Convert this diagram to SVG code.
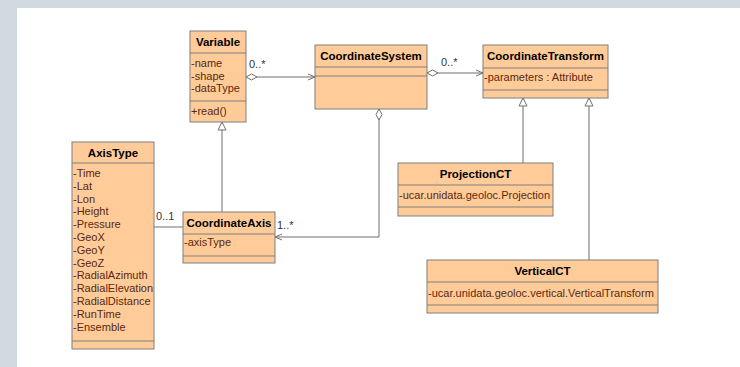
<svg xmlns="http://www.w3.org/2000/svg" width="740" height="367" viewBox="0 0 740 367">
<style>
.box{fill:#ffcc99;stroke:#7f7f7f;stroke-width:1}
.div{stroke:#7f7f7f;stroke-width:1}
.t{font-family:"Liberation Sans",Arial,sans-serif;font-size:11.5px;font-weight:bold;fill:#000;text-anchor:middle}
.a{font-family:"Liberation Sans",Arial,sans-serif;font-size:11px;fill:#5a2810}
.l{font-family:"Liberation Sans",Arial,sans-serif;font-size:11px;fill:#333}
.c{fill:none;stroke:#6f6f6f;stroke-width:1}
</style>
<defs>
<marker id="arr" markerWidth="8" markerHeight="8" refX="7" refY="4" orient="auto" markerUnits="userSpaceOnUse">
<path d="M0,1 L7,4 L0,7" fill="none" stroke="#6f6f6f" stroke-width="1"/>
</marker>
<marker id="dia" markerWidth="14" markerHeight="8" refX="1" refY="4" orient="auto" markerUnits="userSpaceOnUse">
<path d="M1,4 L6.5,1 L12,4 L6.5,7 Z" fill="#fff" stroke="#6f6f6f" stroke-width="1"/>
</marker>
<marker id="tri" markerWidth="10" markerHeight="10" refX="9" refY="5" orient="auto" markerUnits="userSpaceOnUse">
<path d="M1,1 L9,5 L1,9 Z" fill="#fff" stroke="#6f6f6f" stroke-width="1"/>
</marker>
</defs>
<rect x="0" y="0" width="740" height="367" fill="#fff"/>
<rect x="0" y="0" width="740" height="8" fill="#d1d9e1"/>
<rect x="0" y="0" width="17" height="367" fill="#d1d9e1"/>

<g id="connectors">
<line class="c" x1="246" y1="77" x2="315" y2="77" marker-start="url(#dia)" marker-end="url(#arr)"/>
<text class="l" x="249" y="68">0..*</text>
<line class="c" x1="427" y1="73" x2="483" y2="73" marker-start="url(#dia)" marker-end="url(#arr)"/>
<text class="l" x="441" y="66">0..*</text>
<path class="c" d="M379,109 L379,237 L275,237" marker-start="url(#dia)" marker-end="url(#arr)"/>
<text class="l" x="277" y="229">1..*</text>
<line class="c" x1="222" y1="212" x2="222" y2="122" marker-end="url(#tri)"/>
<line class="c" x1="154" y1="227" x2="183" y2="227"/>
<text class="l" x="156" y="220">0..1</text>
<line class="c" x1="523" y1="163" x2="523" y2="98" marker-end="url(#tri)"/>
<line class="c" x1="589" y1="260" x2="589" y2="98" marker-end="url(#tri)"/>
</g>

<g id="Variable">
<rect class="box" x="190" y="31" width="56" height="91"/>
<line class="div" x1="190" y1="53" x2="246" y2="53"/>
<line class="div" x1="190" y1="101" x2="246" y2="101"/>
<text class="t" x="218" y="45.5">Variable</text>
<text class="a" x="191" y="67">-name</text>
<text class="a" x="191" y="79.5">-shape</text>
<text class="a" x="191" y="92">-dataType</text>
<text class="a" x="191" y="115">+read()</text>
</g>

<g id="CoordinateSystem">
<rect class="box" x="315" y="45" width="112" height="64"/>
<line class="div" x1="315" y1="67" x2="427" y2="67"/>
<line class="div" x1="315" y1="76" x2="427" y2="76"/>
<text class="t" x="371" y="59.5">CoordinateSystem</text>
</g>

<g id="CoordinateTransform">
<rect class="box" x="483" y="45" width="125" height="53"/>
<line class="div" x1="483" y1="68" x2="608" y2="68"/>
<line class="div" x1="483" y1="90" x2="608" y2="90"/>
<text class="t" x="545.5" y="59.5">CoordinateTransform</text>
<text class="a" x="484" y="81">-parameters : Attribute</text>
</g>

<g id="AxisType">
<rect class="box" x="72" y="142" width="82" height="207"/>
<line class="div" x1="72" y1="163" x2="154" y2="163"/>
<line class="div" x1="72" y1="341" x2="154" y2="341"/>
<text class="t" x="113" y="156.5">AxisType</text>
<text class="a" x="73" y="177">-Time</text>
<text class="a" x="73" y="189.8">-Lat</text>
<text class="a" x="73" y="202.6">-Lon</text>
<text class="a" x="73" y="215.4">-Height</text>
<text class="a" x="73" y="228.2">-Pressure</text>
<text class="a" x="73" y="241">-GeoX</text>
<text class="a" x="73" y="253.8">-GeoY</text>
<text class="a" x="73" y="266.6">-GeoZ</text>
<text class="a" x="73" y="279.4">-RadialAzimuth</text>
<text class="a" x="73" y="292.2">-RadialElevation</text>
<text class="a" x="73" y="305">-RadialDistance</text>
<text class="a" x="73" y="317.8">-RunTime</text>
<text class="a" x="73" y="330.6">-Ensemble</text>
</g>

<g id="CoordinateAxis">
<rect class="box" x="183" y="212" width="92" height="51"/>
<line class="div" x1="183" y1="234" x2="275" y2="234"/>
<line class="div" x1="183" y1="256" x2="275" y2="256"/>
<text class="t" x="229" y="226.5">CoordinateAxis</text>
<text class="a" x="184" y="246">-axisType</text>
</g>

<g id="ProjectionCT">
<rect class="box" x="398" y="163" width="155" height="53"/>
<line class="div" x1="398" y1="185" x2="553" y2="185"/>
<line class="div" x1="398" y1="207" x2="553" y2="207"/>
<text class="t" x="475.5" y="177.5">ProjectionCT</text>
<text class="a" x="399" y="199">-ucar.unidata.geoloc.Projection</text>
</g>

<g id="VerticalCT">
<rect class="box" x="427" y="260" width="231" height="53"/>
<line class="div" x1="427" y1="282" x2="658" y2="282"/>
<line class="div" x1="427" y1="305" x2="658" y2="305"/>
<text class="t" x="542.5" y="274.5">VerticalCT</text>
<text class="a" x="428" y="297">-ucar.unidata.geoloc.vertical.VerticalTransform</text>
</g>
</svg>
